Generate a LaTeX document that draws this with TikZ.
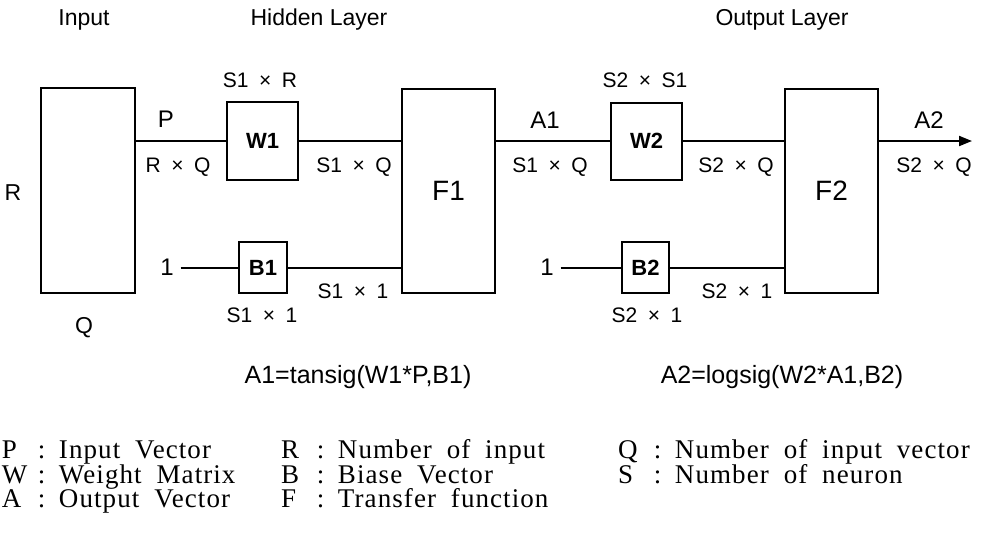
\documentclass[tikz,border=0pt]{standalone}
\usepackage{fontspec}
\setmainfont{Liberation Sans}
\newfontfamily\legendfont{Liberation Serif}[LetterSpace=4, WordSpace=1.9]
\usetikzlibrary{positioning, calc, arrows.meta}

\tikzset{
	block/.style={draw, line width=1pt, inner sep=0pt},
	txt/.style={inner sep=0pt, anchor=base},
	title/.style={txt, font=\fontsize{11.5}{13}\selectfont},
	dim/.style={txt, font=\fontsize{10.5}{12}\selectfont},
	sig/.style={txt, font=\fontsize{12}{14}\selectfont},
	legend/.style={inner sep=0pt, anchor=base west, font=\legendfont\fontsize{13.5}{15}\selectfont},
}
\newcommand{\tms}{\enspace×\enspace}
\newcommand{\legitem}[2]{\makebox[18pt][l]{#1}:\hspace{0.5em}#2}

\begin{document}
\begin{tikzpicture}[x=0.5pt, y=-0.5pt, line width=1pt]
	\useasboundingbox (0,0) rectangle (982,537);

	% layer titles
	\node[title] at (84,25) {Input};
	\node[title] at (319,25) {Hidden Layer};
	\node[title] at (782,25) {Output Layer};

	% blocks
	\node[block, minimum width=47pt, minimum height=102.5pt] (In) at (88,190.5) {};
	\node[block, minimum width=35.5pt, minimum height=39pt, font=\bfseries\fontsize{11}{13}\selectfont] (W1) at (262.5,141) {W1};
	\node[block, minimum width=24pt, minimum height=25.5pt, font=\bfseries\fontsize{11}{13}\selectfont] (B1) at (263,267.5) {B1};
	\node[block, minimum width=46.5pt, minimum height=102pt, font=\fontsize{14}{16}\selectfont] (F1) at (448.5,191) {F1};
	\node[block, minimum width=35.5pt, minimum height=38.5pt, font=\bfseries\fontsize{11}{13}\selectfont] (W2) at (646.5,141) {W2};
	\node[block, minimum width=23.5pt, minimum height=25.5pt, font=\bfseries\fontsize{11}{13}\selectfont] (B2) at (645.5,267.5) {B2};
	\node[block, minimum width=46.5pt, minimum height=102pt, font=\fontsize{14}{16}\selectfont] (F2) at (831.5,191) {F2};

	\node[inner sep=3pt, font=\fontsize{12}{14}\selectfont] (one1) at (167,267.5) {1};
	\node[inner sep=3pt, font=\fontsize{12}{14}\selectfont] (one2) at (547,267.5) {1};
	\coordinate (out) at (972,141);

	% connectors
	\draw (In.east |- W1.west) -- (W1.west);
	\draw (W1.east) -- (F1.west |- W1.east);
	\draw (one1.east) -- (B1.west);
	\draw (B1.east) -- (F1.west |- B1.east);
	\draw (F1.east |- W2.west) -- (W2.west);
	\draw (W2.east) -- (F2.west |- W2.east);
	\draw (one2.east) -- (B2.west);
	\draw (B2.east) -- (F2.west |- B2.east);
	\draw[-{Triangle[length=6.5pt, width=5pt]}] (F2.east |- W2.east) -- (out);

	% sizes and signals
	\node[title] at (13,200) {R};
	\node[title] at (84,333) {Q};
	\node[sig] at (166,127) {P};
	\node[sig] at (545,128) {A1};
	\node[sig] at (929,128) {A2};
	\node[dim] at (260,87) {S1\tms R};
	\node[dim] at (645,87) {S2\tms S1};
	\node[dim] at (178,172) {R\tms Q};
	\node[dim] at (354,172) {S1\tms Q};
	\node[dim] at (550,172) {S1\tms Q};
	\node[dim] at (736,172) {S2\tms Q};
	\node[dim] at (934,172) {S2\tms Q};
	\node[dim] at (353,298) {S1\tms 1};
	\node[dim] at (737,298) {S2\tms 1};
	\node[dim] at (262,322) {S1\tms 1};
	\node[dim] at (647,322) {S2\tms 1};

	% transfer functions
	\node[sig, font=\fontsize{12.5}{14}\selectfont] at (358,383) {A1=tansig(W1*P,B1)};
	\node[sig, font=\fontsize{12.5}{14}\selectfont] at (782,383) {A2=logsig(W2*A1,B2)};

	% legend
	\node[legend] at (1,458) {\legitem{P}{Input Vector}};
	\node[legend] at (1,483) {\legitem{W}{Weight Matrix}};
	\node[legend] at (1,507) {\legitem{A}{Output Vector}};
	\node[legend] at (280,458) {\legitem{R}{Number of input}};
	\node[legend] at (280,483) {\legitem{B}{Biase Vector}};
	\node[legend] at (280,507) {\legitem{F}{Transfer function}};
	\node[legend] at (617,458) {\legitem{Q}{Number of input vector}};
	\node[legend] at (617,483) {\legitem{S}{Number of neuron}};
\end{tikzpicture}
\end{document}
